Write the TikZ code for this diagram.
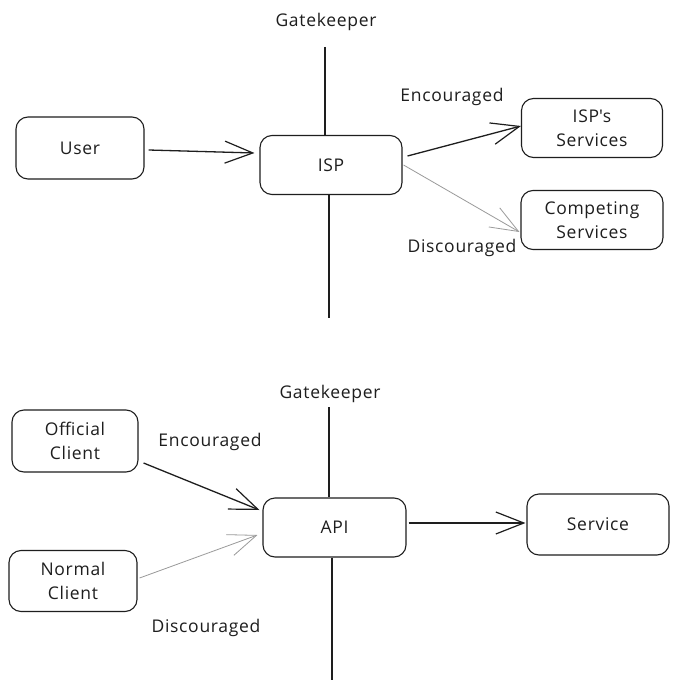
\documentclass[tikz,border=0pt]{standalone}
\usepackage{fontspec}
\setmainfont{Open Sans}[LetterSpace=4]
\usetikzlibrary{arrows.meta,calc}
\definecolor{ink}{HTML}{1E1E1E}
\definecolor{faint}{HTML}{9A9A9A}
\tikzset{
  box/.style={draw=ink, line width=1.1pt, rounded corners=12pt, align=center,
    inner sep=0pt, text=ink, font=\fontsize{17.5}{24}\selectfont},
  lbl/.style={text=ink, inner sep=0pt, font=\fontsize{17.5}{20}\selectfont},
  strong/.style={draw=ink, line width=1.3pt, -{Straight Barb[length=28pt,width=22pt,line width=1.2pt]}},
  weak/.style={draw=faint, line width=0.8pt, -{Straight Barb[length=28pt,width=22pt,line width=0.8pt]}},
  gate/.style={draw=ink, line width=1.1pt}
}
\begin{document}
\begin{tikzpicture}[x=1pt,y=-1pt]
\path[use as bounding box, fill=white] (0,0) rectangle (679,690);

% top part
\node[box, minimum width=128pt, minimum height=62pt] (user) at (80,148) {User};
\node[box, minimum width=142pt, minimum height=59pt] (isp) at (331,165) {ISP};
\node[box, minimum width=141pt, minimum height=59pt] (ispserv) at (592,128) {ISP\textquotesingle s\\Services};
\node[box, minimum width=142pt, minimum height=59pt] (comp) at (592,220) {Competing\\Services};

\node[lbl] (gk1) at (326,22) {Gatekeeper};
\node[lbl] (enc1) at (452,97) {Encouraged};
\node[lbl] (dis1) at (462,248) {Discouraged};

\coordinate (gk1a) at (325,47);
\coordinate (gk1b) at (329,318);
\draw[gate] (gk1a) -- (gk1a |- isp.north);
\draw[gate] (isp.south -| gk1b) -- (gk1b);

\draw[strong] ($(user.east)+(4,2)$) -- ($(isp.west)+(-5,-12)$);
\draw[strong] ($(isp.east)+(5,-9)$) -- ($(ispserv.west)+(0,-2)$);
\draw[weak] ($(isp.east)+(1,0)$) -- ($(comp.west)+(-1,12)$);

% bottom part
\node[box, minimum width=126pt, minimum height=62pt] (off) at (75,441) {Official\\Client};
\node[box, minimum width=128pt, minimum height=61pt] (norm) at (73,581) {Normal\\Client};
\node[box, minimum width=143pt, minimum height=59pt] (api) at (334.5,527.5) {API};
\node[box, minimum width=142pt, minimum height=61pt] (serv) at (598,524.5) {Service};

\node[lbl] (gk2) at (330,394) {Gatekeeper};
\node[lbl] (enc2) at (210,442) {Encouraged};
\node[lbl] (dis2) at (206,628) {Discouraged};

\coordinate (gk2a) at (329,407);
\coordinate (gk2b) at (332,680);
\draw[gate] (gk2a) -- (gk2a |- api.north);
\draw[gate] (api.south -| gk2b) -- (gk2b);

\draw[strong] ($(api.east)+(2,-4.5)$) -- ($(serv.west)+(-1,-1.5)$);
\draw[strong] ($(off.east)+(5,22)$) -- ($(api.west)+(-3,-17.5)$);
\draw[weak] ($(norm.east)+(2,-3)$) -- ($(api.west)+(-5,7.5)$);
\end{tikzpicture}
\end{document}
